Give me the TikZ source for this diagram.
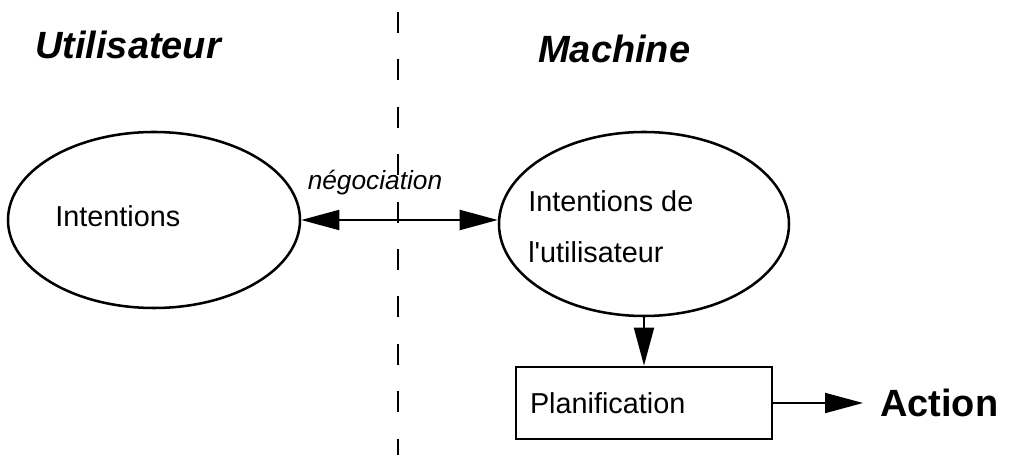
\documentclass[tikz,border=0pt]{standalone}
\usepackage{fontspec}
\setmainfont{Liberation Sans}
\usepackage{tikz}
\usetikzlibrary{positioning}
\usetikzlibrary{arrows.meta}
\usetikzlibrary{shapes.geometric}
\usepackage{xcolor}
\newcommand\regtext{\fontsize{20.5}{36}\selectfont}
\newcommand\bigtext{\fontsize{27}{32}\selectfont\bfseries}

\begin{document}
\begin{tikzpicture}[
		bulle/.style={draw=black, ellipse, line width=1.8pt, inner sep=0},
		fleche/.style={black, line width=1.4pt, -{Triangle[length=0.95cm, width=0.5cm]}},
		texte/.style={inner sep=0, font=\regtext}
	]
	    		\useasboundingbox (0,0) rectangle (25.275,11.375);
	    		\draw[black, line width=2pt, dash pattern=on 0.525cm off 0.66cm] (9.95,11.075)--(9.95,0);
	    		\node[anchor=base west, inner sep=0, font=\bigtext\itshape] (util) at (0.875,9.9) {Utilisateur};
	    		\node[anchor=base west, inner sep=0, font=\bigtext\itshape] (mach) at (13.45,9.8) {Machine};
	    		\node[bulle, minimum width=7.3cm, minimum height=4.4cm] (intu) at (3.85,5.875) {};
	    		\node[texte, anchor=base west] (intutxt) at (1.375,5.7) {Intentions};
	    		\node[bulle, minimum width=7.25cm, minimum height=4.6cm] (intm) at (16.1,5.775) {};
	    		\node[texte, anchor=west, align=left] (intmtxt) at (13.2,5.7) {Intentions de\\l\textquotesingle utilisateur};
	    		\node[draw=black, line width=2pt, minimum height=1.8cm, inner ysep=0, inner xsep=0.35cm,
	    			text width=5.7cm, align=left, font=\regtext] (plan) at (16.1,1.3) {Planification};
	    		\node[anchor=west, inner sep=0, font=\bigtext] (action) at (22.0,1.3) {Action};
	    		\draw[fleche, {Triangle[length=0.95cm, width=0.5cm]}-{Triangle[length=0.95cm, width=0.5cm]}] (intu.east)--(intu.east -| intm.west);
	    		\node[texte, anchor=base, font=\fontsize{18.7}{22}\selectfont\itshape] (nego) at (9.375,6.625) {négociation};
	    		\draw[fleche] (intm.south)--(plan.north);
	    		\draw[fleche, shorten >=0.425cm] (plan.east)--(action.west);
\end{tikzpicture}
\end{document}
